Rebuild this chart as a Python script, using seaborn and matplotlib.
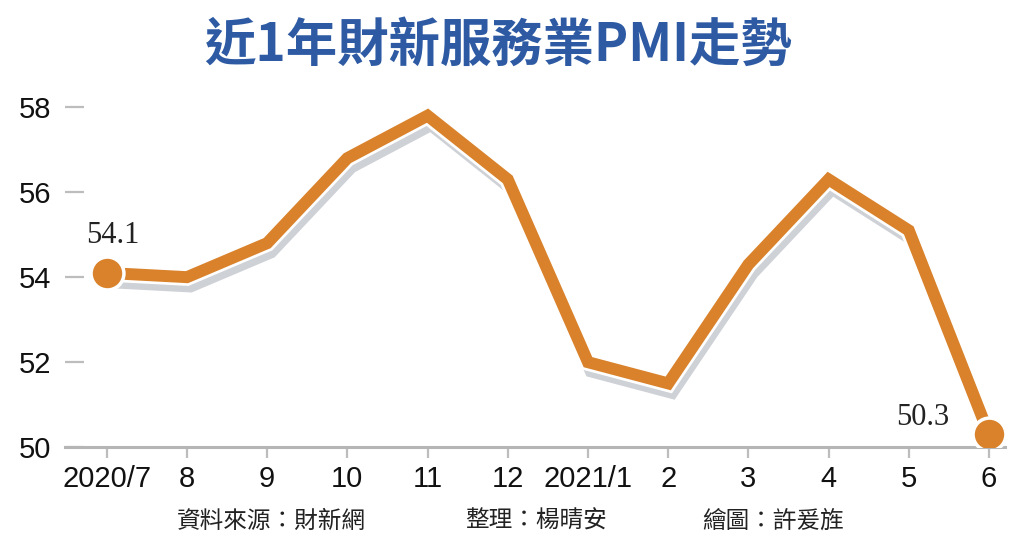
import matplotlib
matplotlib.use("Agg")
import matplotlib.pyplot as plt
import matplotlib.patheffects as pe
import seaborn as sns
import pandas as pd
import numpy as np

months = ["2020/7", "8", "9", "10", "11", "12", "2021/1", "2", "3", "4", "5", "6"]
pmi = [54.1, 54.0, 54.8, 56.8, 57.8, 56.3, 52.0, 51.5, 54.3, 56.3, 55.1, 50.3]
y_ticks = [50, 52, 54, 56, 58]
title = "近1年財新服務業PMI走勢"
footer = ["資料來源：財新網", "整理：楊晴安", "繪圖：許爰旌"]

sns.set_theme(style="white")
plt.rcParams['font.family'] = ['Liberation Sans', 'Noto Sans CJK TC', 'DejaVu Sans']

df = pd.DataFrame({"pos": np.arange(len(months)), "pmi": pmi})

fig = plt.figure(figsize=(10.24, 5.46), dpi=100)
ax = fig.add_axes([0.0635, 0.181, 0.918, 0.671])

orange = "#D9822B"
sns.lineplot(data=df, x="pos", y="pmi", ax=ax, color=orange, linewidth=8.6,
             solid_joinstyle="miter", solid_capstyle="butt",
             path_effects=[pe.SimpleLineShadow(offset=(2.5, -6), shadow_color="#9499a6", alpha=0.45, rho=1.0, linewidth=10),
                           pe.Stroke(linewidth=12.5, foreground="white"),
                           pe.Normal()])

# endpoint markers
ends = df.iloc[[0, -1]]
sns.scatterplot(data=ends, x="pos", y="pmi", ax=ax, s=560, color=orange,
                edgecolor="white", linewidth=2.5, zorder=5, legend=False)

ax.text(0.08, pmi[0] + 0.55, f"{pmi[0]:.1f}", ha="center", va="bottom",
        fontsize=22, family=["Liberation Serif", "DejaVu Serif"], color="#222222")
ax.text(len(months) - 1 - 0.5, pmi[-1] + 0.05, f"{pmi[-1]:.1f}", ha="right", va="bottom",
        fontsize=22, family=["Liberation Serif", "DejaVu Serif"], color="#222222")

ax.set_xlim(-0.52, 11.2)
ax.set_ylim(50, 58.62)
ax.set_xticks(df["pos"])
ax.set_xticklabels(months)
ax.set_yticks(y_ticks)
ax.set_xlabel("")
ax.set_ylabel("")

for s in ["top", "right", "left"]:
    ax.spines[s].set_visible(False)
ax.spines["bottom"].set_color("#b5b5b5")
ax.spines["bottom"].set_linewidth(2.2)

ax.tick_params(axis="y", direction="in", length=14, width=1.6, color="#bdbdbd",
               pad=10, labelsize=21, labelcolor="#111111", left=True)
ax.tick_params(axis="x", direction="out", length=8, width=1.6, color="#bdbdbd",
               pad=5, labelsize=21, labelcolor="#111111", bottom=True)

fig.text(0.486, 0.918, title, ha="center", va="center", fontsize=37,
         fontweight="semibold", color="#2d5aa3",
         family=["Noto Sans CJK TC", "DejaVu Sans"])

fx = [0.265, 0.523, 0.755]
for t, x in zip(footer, fx):
    fig.text(x, 0.045, t, ha="center", va="center", fontsize=17,
             color="#222222", family=["Noto Sans CJK TC", "DejaVu Sans"])

fig.savefig("out.png", dpi=100, facecolor="white")
